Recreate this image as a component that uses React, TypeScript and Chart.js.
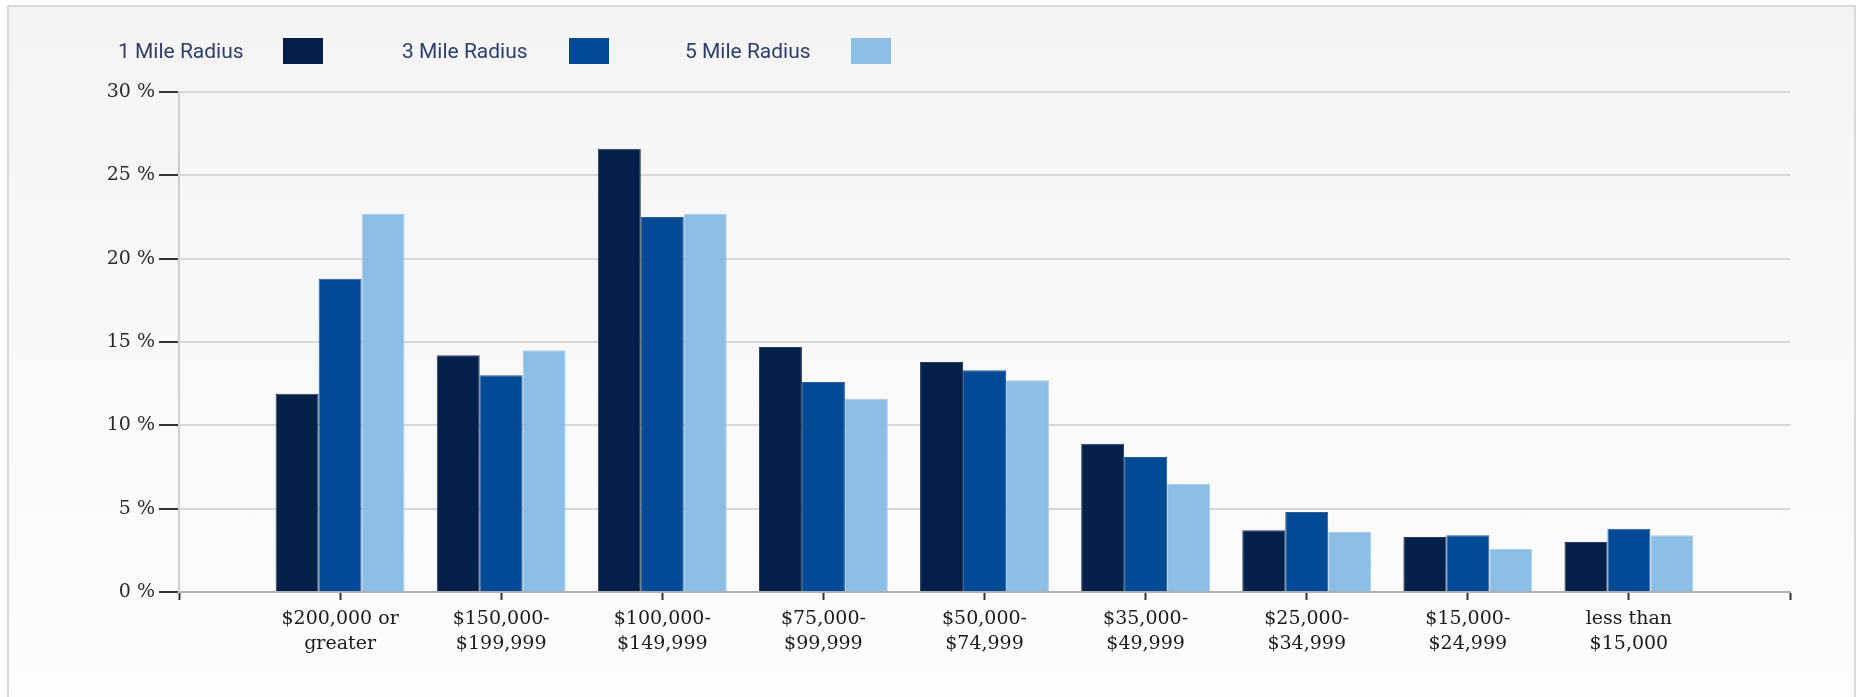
import React, { useEffect, useRef } from "react";
import { Chart, registerables } from "chart.js";

Chart.register(...registerables);

const categories: string[][] = [
  ["$200,000 or", "greater"],
  ["$150,000-", "$199,999"],
  ["$100,000-", "$149,999"],
  ["$75,000-", "$99,999"],
  ["$50,000-", "$74,999"],
  ["$35,000-", "$49,999"],
  ["$25,000-", "$34,999"],
  ["$15,000-", "$24,999"],
  ["less than", "$15,000"],
];

const seriesNames = ["1 Mile Radius", "3 Mile Radius", "5 Mile Radius"];
const seriesColors = ["#03204a", "#014a96", "#8bbde5"];
const seriesBorders = ["#2b3c58", "#2a5f9c", "#a8cdec"];

const oneMile = [11.9, 14.2, 26.6, 14.7, 13.8, 8.9, 3.7, 3.3, 3.0];
const threeMile = [18.8, 13.0, 22.5, 12.6, 13.3, 8.1, 4.8, 3.4, 3.8];
const fiveMile = [22.7, 14.5, 22.7, 11.6, 12.7, 6.5, 3.6, 2.6, 3.4];

const yTicks = [0, 5, 10, 15, 20, 25, 30];

const W = 1856;
const H = 697;

export default function App() {
  const ref = useRef<HTMLCanvasElement | null>(null);

  useEffect(() => {
    if (!ref.current) return;
    const labels: (string | string[])[] = ["", ...categories, ""];
    const pad = (arr: number[]) => [null, ...arr, null];
    const all = [oneMile, threeMile, fiveMile];
    const chart = new Chart(ref.current, {
      type: "bar",
      data: {
        labels,
        datasets: all.map((d, i) => ({
          label: seriesNames[i],
          data: pad(d) as any,
          backgroundColor: seriesColors[i],
          borderColor: seriesBorders[i],
          borderWidth: 1,
          categoryPercentage: 0.8,
          barPercentage: 1.0,
        })),
      },
      options: {
        animation: false,
        responsive: false,
        devicePixelRatio: 1,
        layout: { padding: { top: 92, right: 66, bottom: 0, left: 0 } },
        plugins: {
          legend: { display: false },
          tooltip: { enabled: false },
        },
        scales: {
          x: {
            offset: false,
            grid: {
              display: true,
              offset: false,
              drawOnChartArea: false,
              drawTicks: true,
              tickLength: 8,
              tickColor: "#333",
              tickWidth: 2,
            },
            border: { display: true, color: "#b0b0b0", width: 2 },
            ticks: {
              autoSkip: false,
              maxRotation: 0,
              minRotation: 0,
              padding: 6,
              color: "#1a1a1a",
              font: { family: "'DejaVu Serif'", size: 19, lineHeight: 1.35 },
            },
            afterFit: (s: any) => {
              s.height = 105;
            },
          },
          y: {
            min: 0,
            max: 30,
            afterBuildTicks: (s: any) => {
              s.ticks = yTicks.map((v) => ({ value: v }));
            },
            grid: {
              color: "#d8d8d8",
              lineWidth: 2,
              tickLength: 20,
              tickColor: "#333",
              tickWidth: 2,
            },
            border: { display: true, color: "#cfcfcf", width: 2 },
            ticks: {
              padding: 4,
              color: "#2a2a2a",
              font: { family: "'DejaVu Serif'", size: 19 },
              callback: (v: any) => `${v} %`,
            },
            afterFit: (s: any) => {
              s.width = 179;
            },
          },
        },
      },
    });
    return () => chart.destroy();
  }, []);

  const legendItems = [
    { text: 0, tx: 118, bx: 283 },
    { text: 1, tx: 402, bx: 569 },
    { text: 2, tx: 685, bx: 851 },
  ];

  return (
    <div
      style={{
        position: "absolute",
        left: 0,
        top: 0,
        width: W,
        height: H,
        overflow: "hidden",
        background: "#ffffff",
      }}
    >
      <div
        style={{
          position: "absolute",
          left: 7,
          top: 5,
          width: W - 7,
          height: H + 10,
          boxSizing: "border-box",
          borderTop: "2px solid #d9d9d9",
          borderLeft: "2px solid #d9d9d9",
          borderRight: "2px solid #d9d9d9",
          background: "linear-gradient(to bottom, #f4f4f4 0%, #fdfdfd 100%)",
        }}
      />
      <canvas
        ref={ref}
        width={W}
        height={H}
        style={{ position: "absolute", left: 0, top: 0, width: W, height: H }}
      />
      {legendItems.map((it) => (
        <React.Fragment key={it.text}>
          <div
            style={{
              position: "absolute",
              left: it.tx,
              top: 38,
              height: 26,
              lineHeight: "26px",
              fontFamily: "Roboto, 'Noto Sans', sans-serif",
              fontSize: 21,
              color: "#2c3f6c",
              whiteSpace: "nowrap",
            }}
          >
            {seriesNames[it.text]}
          </div>
          <div
            style={{
              position: "absolute",
              left: it.bx,
              top: 38,
              width: 40,
              height: 26,
              background: seriesColors[it.text],
            }}
          />
        </React.Fragment>
      ))}
    </div>
  );
}
